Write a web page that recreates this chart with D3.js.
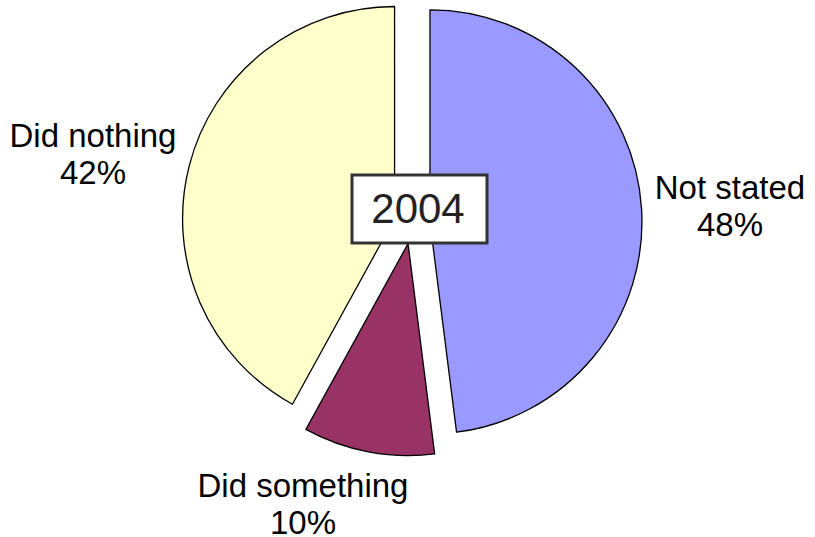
<!DOCTYPE html>
<html><head><meta charset="utf-8">
<script src="https://cdn.jsdelivr.net/npm/d3@7"></script>
<style>html,body{margin:0;padding:0;background:#fff;}</style>
</head><body>
<svg id="c" width="815" height="537"></svg>
<script>
const categories = ["Not stated", "Did something", "Did nothing"];
const values = [48, 10, 42];
const colors = ["#9999FF", "#993366", "#FFFFCC"];
const explode = [18, 21, 18];
const labelPos = [[730, 199], [303, 497], [93, 147]];
const title = "2004";

const svg = d3.select("#c");
const cx = 412, cy = 223, r = 212;
const pie = d3.pie().sort(null).value(d => d)(values);
const arc = d3.arc().innerRadius(0).outerRadius(r);

const g = svg.append("g").attr("transform", `translate(${cx},${cy})`);
g.selectAll("path").data(pie).enter().append("path")
  .attr("d", arc)
  .attr("fill", (d, i) => colors[i])
  .attr("stroke", "#000")
  .attr("stroke-width", 1.3)
  .attr("stroke-linejoin", "round")
  .attr("transform", (d, i) => {
    const a = (d.startAngle + d.endAngle) / 2;
    return `translate(${Math.sin(a) * explode[i]},${-Math.cos(a) * explode[i]})`;
  });

categories.forEach((c, i) => {
  const t = svg.append("text")
    .attr("x", labelPos[i][0]).attr("y", labelPos[i][1])
    .attr("text-anchor", "middle")
    .attr("font-family", "Liberation Sans, Arial, sans-serif")
    .attr("font-size", 33).attr("fill", "#000");
  t.append("tspan").attr("x", labelPos[i][0]).text(c);
  t.append("tspan").attr("x", labelPos[i][0]).attr("dy", 37).text(values[i] + "%");
});

svg.append("rect").attr("x", 352).attr("y", 175).attr("width", 135).attr("height", 68)
  .attr("fill", "#fff").attr("stroke", "#333").attr("stroke-width", 3);
svg.append("text").attr("x", 418).attr("y", 223).attr("text-anchor", "middle")
  .attr("font-family", "Liberation Sans, Arial, sans-serif")
  .attr("font-size", 42).attr("fill", "#222").text(title);
</script>
</body></html>
